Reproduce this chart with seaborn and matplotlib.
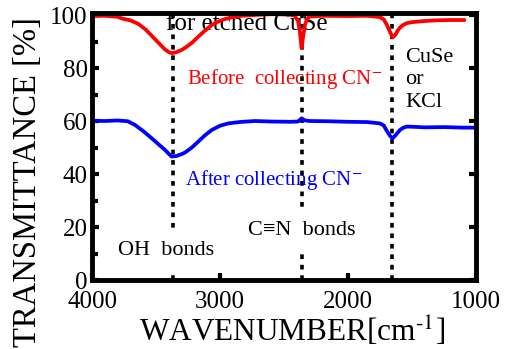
import matplotlib
matplotlib.use("Agg")
import matplotlib.pyplot as plt
import seaborn as sns
import pandas as pd

# FT-IR spectra (wavenumber in cm^-1, transmittance in %)
wn_before = [4000, 3900, 3800, 3760, 3700, 3640, 3580, 3530, 3480, 3430, 3400, 3375,
             3340, 3300, 3270, 3220, 3170, 3120, 3065, 3010, 2960, 2900, 2830, 2730,
             2600, 2500, 2420, 2390, 2375, 2362, 2350, 2336, 2320, 2300, 2200, 2000,
             1850, 1750, 1720, 1698, 1670, 1650, 1630, 1610, 1594, 1570, 1542, 1500,
             1414, 1300, 1200, 1090]
t_before = [99.6, 99.7, 99.3, 98.6, 98.0, 96.7, 94.5, 92.0, 89.5, 87.0, 86.0, 85.6,
            86.0, 86.8, 87.7, 89.5, 91.8, 94.0, 96.2, 97.6, 98.5, 99.2, 99.7, 100.0,
            100.3, 100.2, 99.9, 97.8, 93.5, 87.5, 92.0, 96.2, 98.5, 99.4, 99.7, 99.6,
            99.7, 99.2, 98.3, 96.5, 93.5, 91.6, 92.5, 94.2, 95.2, 96.2, 96.9, 97.3,
            97.7, 98.0, 98.1, 98.1]

wn_after = [4000, 3900, 3800, 3720, 3664, 3600, 3534, 3480, 3430, 3400, 3378, 3340,
            3300, 3273, 3220, 3170, 3120, 3065, 3000, 2935, 2850, 2727, 2600, 2450,
            2390, 2362, 2335, 2300, 2150, 2000, 1850, 1750, 1720, 1698, 1670, 1650,
            1625, 1594, 1570, 1542, 1480, 1400, 1250, 1100, 1000]
t_after = [60.1, 60.0, 60.2, 59.9, 58.5, 56.2, 53.5, 51.2, 49.1, 47.6, 46.6, 46.8,
           47.5, 48.1, 50.0, 52.2, 54.5, 56.6, 58.2, 59.1, 59.6, 60.0, 59.8, 59.7,
           59.8, 61.0, 60.2, 60.0, 59.9, 59.7, 59.6, 59.1, 58.3, 56.4, 54.3, 53.5,
           54.8, 56.6, 57.4, 57.9, 57.8, 57.6, 57.7, 57.5, 57.5]

# Band positions marked with dotted guides
band_wn = [3370, 2357, 1654]

x_ticks = [4000, 3000, 2000, 1000]
y_ticks = [0, 20, 40, 60, 80, 100]

sns.set_style("ticks")
plt.rcParams.update({
    "font.family": ["Liberation Serif", "DejaVu Serif"],
    "mathtext.fontset": "stix",
    "text.color": "black",
    "axes.labelcolor": "black",
    "axes.edgecolor": "black",
    "axes.linewidth": 3.5,
    "xtick.color": "black",
    "ytick.color": "black",
})

fig = plt.figure(figsize=(5.19, 3.49), dpi=100)
ax = fig.add_axes([0.1773, 0.1977, 0.7397, 0.765])

df = pd.concat([
    pd.DataFrame({"wn": wn_before, "T": t_before, "s": "before"}),
    pd.DataFrame({"wn": wn_after, "T": t_after, "s": "after"}),
])

for x in band_wn:
    ax.axvline(x, color="black", lw=2.6, linestyle=(0, (1.3, 1.6)), zorder=1)

sns.lineplot(data=df, x="wn", y="T", hue="s", palette={"before": "#ff0000", "after": "#0000ff"},
             sort=False, estimator=None, lw=2.7, legend=False, ax=ax, zorder=3)

ax.set_xlim(4000, 1000)
ax.set_ylim(0, 100.75)
ax.set_xticks(x_ticks)
ax.set_yticks(y_ticks)
ax.set_yticks([10, 30, 50, 70, 90], minor=True)
ax.tick_params(axis="both", which="major", direction="in", length=5, width=3,
               labelsize=18, right=True, top=False)
ax.tick_params(axis="y", which="major", pad=3)
ax.tick_params(axis="x", which="major", pad=8)
ax.tick_params(axis="y", which="minor", direction="in", length=4, width=3, right=False)
for sp in ax.spines.values():
    sp.set_linewidth(3.5)
    sp.set_color("black")
    sp.set_zorder(4)

ax.set_xlabel("WAVENUMBER[cm$^{\\text{-}1}$]", fontsize=22.5)
ax.xaxis.set_label_coords(0.52, -0.13)
ax.set_ylabel("TRANSMITTANCE [%]", fontsize=23.5)
ax.yaxis.set_label_coords(-0.128, 0.365)

# annotations
ax.text(2790, 94.3, "for etched CuSe", fontsize=18, ha="center", va="baseline", zorder=0.5)
ax.text(3258, 75.8, "Before  collecting CN$^{-}$", fontsize=15, color="#ff0000",
        ha="left", va="center", zorder=2)
ax.text(3273, 37.7, "After collecting CN$^{-}$", fontsize=15, color="#0000ff",
        ha="left", va="center", zorder=2)
ax.text(1555, 75.5, "CuSe\nor\nKCl", fontsize=16, ha="left", va="center",
        linespacing=1.25, zorder=2)
ax.text(3797, 11.0, "OH  bonds", fontsize=16, ha="left", va="center", zorder=2,
        bbox=dict(fc="white", ec="none", pad=9))
ax.text(2781, 18.5, "C≡N  bonds", fontsize=16, ha="left", va="center", zorder=2,
        bbox=dict(fc="white", ec="none", pad=9))

fig.savefig("out.png", dpi=100)
